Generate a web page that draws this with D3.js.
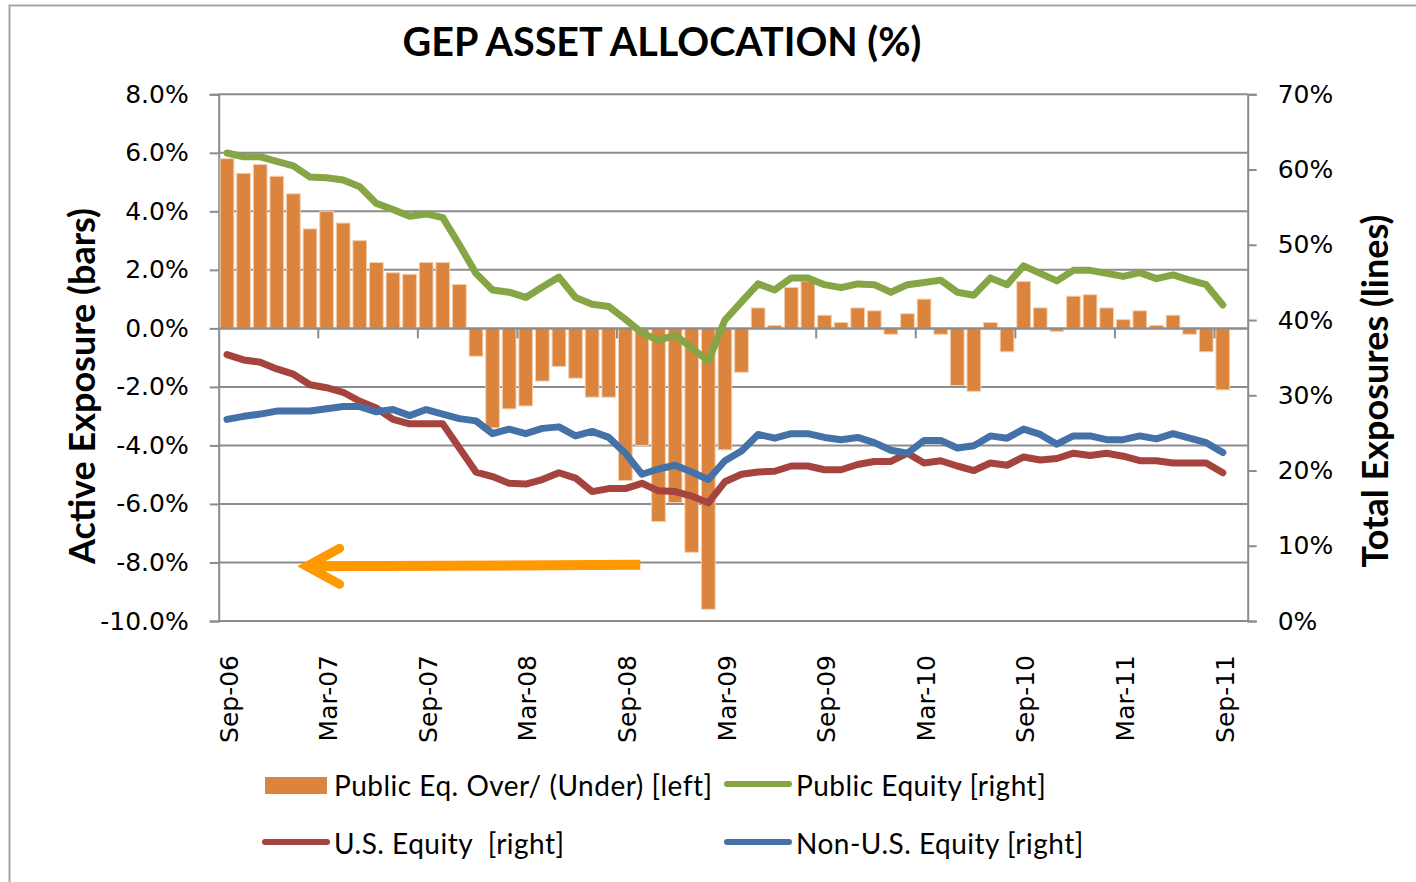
<html>
<head>
<meta charset="utf-8"/>
<title>GEP Asset Allocation</title>
<script src="https://cdn.jsdelivr.net/npm/d3@7"></script>
<style>
  body { margin: 0; background: #fff; }
  .tick-label { font-family: "DejaVu Sans", sans-serif; font-size: 25px; fill: #000; }
  .title { font-family: Lato, sans-serif; font-weight: bold; font-size: 39.5px; }
  .axis-title { font-family: Lato, sans-serif; font-weight: bold; font-size: 36px; }
  .legend text { font-family: Lato, sans-serif; font-size: 28px; letter-spacing: 0.5px; }
</style>
</head>
<body>
<div id="chart"></div>
<script>
// months on the category axis (last slot has no data)
var months = ["Sep-06","Oct-06","Nov-06","Dec-06","Jan-07","Feb-07","Mar-07","Apr-07","May-07","Jun-07","Jul-07","Aug-07",
  "Sep-07","Oct-07","Nov-07","Dec-07","Jan-08","Feb-08","Mar-08","Apr-08","May-08","Jun-08","Jul-08","Aug-08",
  "Sep-08","Oct-08","Nov-08","Dec-08","Jan-09","Feb-09","Mar-09","Apr-09","May-09","Jun-09","Jul-09","Aug-09",
  "Sep-09","Oct-09","Nov-09","Dec-09","Jan-10","Feb-10","Mar-10","Apr-10","May-10","Jun-10","Jul-10","Aug-10",
  "Sep-10","Oct-10","Nov-10","Dec-10","Jan-11","Feb-11","Mar-11","Apr-11","May-11","Jun-11","Jul-11","Aug-11",
  "Sep-11","Oct-11"];
var xTickLabels = ["Sep-06","Mar-07","Sep-07","Mar-08","Sep-08","Mar-09","Sep-09","Mar-10","Sep-10","Mar-11","Sep-11"];

// Public Eq. Over/(Under), % (left axis)
var overUnder = [5.8,5.3,5.6,5.2,4.6,3.4,4.0,3.6,3.0,2.25,1.9,1.85,2.25,2.25,1.5,-0.95,
  -3.4,-2.75,-2.65,-1.8,-1.3,-1.7,-2.35,-2.35,-5.2,-4.0,-6.6,-5.95,-7.65,-9.6,-4.15,-1.5,
  0.7,0.1,1.4,1.6,0.45,0.2,0.7,0.6,-0.2,0.5,1.0,-0.2,-1.95,-2.15,0.2,-0.8,
  1.6,0.7,-0.1,1.1,1.15,0.7,0.3,0.6,0.1,0.45,-0.2,-0.8,-2.1];
// total exposures, % (right axis)
var publicEquity = [62.2,61.7,61.7,61.1,60.5,59.0,58.9,58.6,57.7,55.5,54.7,53.8,54.1,53.6,50.0,46.2,
  44.0,43.7,43.0,44.4,45.7,43.0,42.1,41.8,40.1,38.3,37.3,38.0,36.3,34.5,40.0,42.4,
  44.8,44.0,45.6,45.6,44.7,44.3,44.8,44.7,43.7,44.7,45.0,45.3,43.7,43.3,45.6,44.7,
  47.2,46.2,45.2,46.6,46.6,46.2,45.8,46.3,45.5,46.0,45.3,44.7,42.0];
var usEquity = [35.4,34.7,34.4,33.5,32.8,31.4,31.0,30.4,29.2,28.3,26.8,26.2,26.2,26.2,23.0,19.8,
  19.2,18.3,18.2,18.8,19.7,19.0,17.2,17.6,17.6,18.3,17.3,17.2,16.6,15.7,18.5,19.5,
  19.8,19.9,20.6,20.6,20.1,20.1,20.8,21.2,21.2,22.3,21.0,21.3,20.6,20.0,21.0,20.7,
  21.8,21.4,21.6,22.3,22.0,22.3,21.9,21.3,21.3,21.0,21.0,21.0,19.7];
var nonUsEquity = [26.8,27.2,27.5,27.9,27.9,27.9,28.2,28.5,28.5,27.8,28.1,27.3,28.1,27.5,26.9,26.6,
  24.9,25.5,24.9,25.6,25.8,24.6,25.2,24.4,22.3,19.5,20.2,20.7,19.8,18.8,21.3,22.6,
  24.8,24.3,24.9,24.9,24.4,24.1,24.4,23.7,22.7,22.3,24.0,24.0,23.0,23.3,24.6,24.3,
  25.5,24.8,23.5,24.6,24.6,24.1,24.1,24.6,24.2,24.9,24.3,23.7,22.4];
var leftTicks = [-10,-8,-6,-4,-2,0,2,4,6,8];
var rightTicks = [0,10,20,30,40,50,60,70];
// annotation arrow, in (category index, left-axis %) units
var arrowFrom = [25.4, -8.08], arrowTo = [5.3, -8.13];

var W = 1416, H = 882;
var plotLeft = 218.7, plotRight = 1247.7, plotTop = 94.3, plotBottom = 621;

var svg = d3.select("#chart").append("svg").attr("width", W).attr("height", H);

// chart frame
svg.append("rect").attr("x", 9.5).attr("y", 5.5).attr("width", W).attr("height", H)
  .attr("fill", "none").attr("stroke", "#a6a6a6").attr("stroke-width", 2);

var x = d3.scaleBand().domain(months).range([plotLeft, plotRight]).paddingInner(0.175).paddingOuter(0.0875);
var xIdx = d3.scaleLinear().domain([0, months.length]).range([plotLeft, plotRight]);
var yL = d3.scaleLinear().domain([-10, 8]).range([plotBottom, plotTop]);
var yR = d3.scaleLinear().domain([0, 70]).range([plotBottom, plotTop]);

var gray = "#8c8c8c";

// gridlines
svg.append("g").selectAll("line").data(leftTicks).enter().append("line")
  .attr("x1", plotLeft).attr("x2", plotRight)
  .attr("y1", function(d) { return yL(d); }).attr("y2", function(d) { return yL(d); })
  .attr("stroke", gray).attr("stroke-width", 2);

// left axis
var gLeft = svg.append("g").attr("transform", "translate(" + plotLeft + ",0)")
  .call(d3.axisLeft(yL).tickValues(leftTicks).tickSize(9).tickPadding(21)
    .tickFormat(function(d) { return d.toFixed(1) + "%"; }));
gLeft.select(".domain").attr("stroke", gray).attr("stroke-width", 2);
gLeft.selectAll(".tick line").attr("stroke", gray).attr("stroke-width", 2);
gLeft.selectAll(".tick text").attr("class", "tick-label");
gLeft.attr("font-family", null).attr("font-size", null);

// right axis
var gRight = svg.append("g").attr("transform", "translate(" + plotRight + ",0)")
  .call(d3.axisRight(yR).tickValues(rightTicks).tickSize(9).tickPadding(21)
    .tickFormat(function(d) { return d + "%"; }));
gRight.select(".domain").attr("stroke", gray).attr("stroke-width", 2);
gRight.selectAll(".tick line").attr("stroke", gray).attr("stroke-width", 2);
gRight.selectAll(".tick text").attr("class", "tick-label");
gRight.attr("font-family", null).attr("font-size", null);

// bars
svg.append("g").selectAll("rect").data(overUnder).enter().append("rect")
  .attr("x", function(d, i) { return x(months[i]); })
  .attr("width", x.bandwidth())
  .attr("y", function(d) { return yL(Math.max(0, d)); })
  .attr("height", function(d) { return Math.abs(yL(d) - yL(0)); })
  .attr("fill", "#db843d").attr("stroke", "#f3cfae").attr("stroke-width", 1);

// category axis at zero
var y0 = yL(0);
svg.append("line").attr("x1", plotLeft).attr("x2", plotRight).attr("y1", y0).attr("y2", y0)
  .attr("stroke", gray).attr("stroke-width", 2);
var tickIdx = xTickLabels.map(function(m) { return months.indexOf(m); });
svg.append("g").selectAll("line").data(tickIdx.slice(1)).enter().append("line")
  .attr("x1", function(d) { return xIdx(d); }).attr("x2", function(d) { return xIdx(d); })
  .attr("y1", y0).attr("y2", y0 + 10)
  .attr("stroke", gray).attr("stroke-width", 2);
svg.append("g").selectAll("text").data(xTickLabels).enter().append("text")
  .attr("class", "tick-label")
  .attr("transform", function(d) { return "translate(" + (x(d) + x.bandwidth() / 2 + 2) + "," + (plotBottom + 34) + ") rotate(-90)"; })
  .attr("text-anchor", "end").attr("dy", "0.35em")
  .text(function(d) { return d; });

// lines
var line = d3.line()
  .x(function(d, i) { return x(months[i]) + x.bandwidth() / 2; })
  .y(function(d) { return yR(d); });
var series = [
  { values: publicEquity, color: "#86a545" },
  { values: usEquity, color: "#a5433f" },
  { values: nonUsEquity, color: "#4571a9" }
];
svg.append("g").selectAll("path").data(series).enter().append("path")
  .attr("d", function(s) { return line(s.values); })
  .attr("fill", "none").attr("stroke", function(s) { return s.color; })
  .attr("stroke-width", 7).attr("stroke-linejoin", "round").attr("stroke-linecap", "round");

// arrow annotation
var ax1 = xIdx(arrowFrom[0]), ay1 = yL(arrowFrom[1]);
var ax2 = xIdx(arrowTo[0]), ay2 = yL(arrowTo[1]);
svg.append("line").attr("x1", ax1).attr("y1", ay1).attr("x2", ax2 + 6).attr("y2", ay2)
  .attr("stroke", "#ff9900").attr("stroke-width", 10);
svg.append("path")
  .attr("d", "M" + (ax2 + 33) + "," + (ay2 - 18) + "L" + ax2 + "," + ay2 + "L" + (ax2 + 33) + "," + (ay2 + 18))
  .attr("fill", "none").attr("stroke", "#ff9900").attr("stroke-width", 9)
  .attr("stroke-linecap", "round").attr("stroke-linejoin", "miter");

// titles
svg.append("text").attr("class", "title").attr("x", 662).attr("y", 56)
  .attr("text-anchor", "middle").text("GEP ASSET ALLOCATION (%)");
svg.append("text").attr("class", "axis-title")
  .attr("transform", "translate(95,386) rotate(-90)")
  .attr("text-anchor", "middle").text("Active Exposure (bars)");
svg.append("text").attr("class", "axis-title")
  .attr("transform", "translate(1388,391) rotate(-90)")
  .attr("text-anchor", "middle").text("Total Exposures (lines)");

// legend
var legendItems = [
  { label: "Public Eq. Over/ (Under) [left]", type: "bar", color: "#db843d", x: 265, y: 786 },
  { label: "Public Equity [right]", type: "line", color: "#86a545", x: 727, y: 786 },
  { label: "U.S. Equity  [right]", type: "line", color: "#a5433f", x: 265, y: 844 },
  { label: "Non-U.S. Equity [right]", type: "line", color: "#4571a9", x: 727, y: 844 }
];
var lg = svg.append("g").attr("class", "legend").selectAll("g").data(legendItems).enter().append("g")
  .attr("transform", function(d) { return "translate(" + d.x + "," + d.y + ")"; });
lg.filter(function(d) { return d.type === "bar"; }).append("rect")
  .attr("x", 0).attr("y", -9).attr("width", 62).attr("height", 17).attr("fill", function(d) { return d.color; });
lg.filter(function(d) { return d.type === "line"; }).append("line")
  .attr("x1", 0).attr("x2", 62).attr("y1", -2).attr("y2", -2)
  .attr("stroke", function(d) { return d.color; }).attr("stroke-width", 6).attr("stroke-linecap", "round");
lg.append("text").attr("x", 69).attr("y", 0).attr("dy", "0.35em")
  .style("white-space", "pre")
  .text(function(d) { return d.label; });
</script>
</body>
</html>
